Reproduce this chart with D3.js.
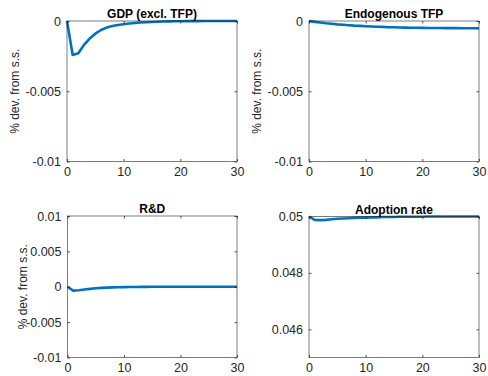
<!DOCTYPE html>
<html>
<head>
<meta charset="utf-8">
<script src="https://cdn.jsdelivr.net/npm/d3@7"></script>
<style>
  html, body { margin: 0; padding: 0; background: #fff; }
  svg { display: block; }
  text { font-family: "Liberation Sans", Arial, Helvetica, sans-serif; }
</style>
</head>
<body>
<svg id="chart" width="488" height="376"></svg>
<script>
// Impulse responses, periods 0..30
const periods = [0, 1, 2, 3, 4, 5, 6, 7, 8, 9, 10, 11, 12, 13, 14, 15, 16, 17, 18, 19, 20, 21, 22, 23, 24, 25, 26, 27, 28, 29, 30];

const gdpExclTfp = [0, -0.00242, -0.0023, -0.0017, -0.00125, -0.0009, -0.00064, -0.00047, -0.00036, -0.00029, -0.00023,
  -0.00018, -0.00014, -0.00011, -0.00009, -0.00007, -0.00005, -0.00004, -0.00003, -0.00002, -0.00002,
  -0.00001, -0.00001, -0.00001, 0, 0, 0, 0, 0, 0, 0];

const endogenousTfp = [0, -0.00006, -0.00011, -0.00016, -0.0002, -0.00024, -0.00027, -0.0003, -0.00033, -0.00035, -0.00037,
  -0.00039, -0.00041, -0.00042, -0.00044, -0.00045, -0.00046, -0.00047, -0.00048, -0.00048, -0.00049,
  -0.0005, -0.0005, -0.0005, -0.00051, -0.00051, -0.00051, -0.00052, -0.00052, -0.00052, -0.00052];

const rAndD = [0, -0.00055, -0.0005, -0.0004, -0.0003, -0.00022, -0.00016, -0.00012, -0.00009, -0.00007, -0.00005,
  -0.00004, -0.00003, -0.00002, -0.00002, -0.00001, -0.00001, -0.00001, 0, 0, 0,
  0, 0, 0, 0, 0, 0, 0, 0, 0, 0];

const adoptionRate = [0.05, 0.04988, 0.04987, 0.04988, 0.0499, 0.04992, 0.04993, 0.04994, 0.04995, 0.04996, 0.04996,
  0.04997, 0.04997, 0.04998, 0.04998, 0.04998, 0.04999, 0.04999, 0.04999, 0.04999, 0.04999,
  0.05, 0.05, 0.05, 0.05, 0.05, 0.05, 0.05, 0.05, 0.05, 0.05];

const titles = ["GDP (excl. TFP)", "Endogenous TFP", "R&D", "Adoption rate"];
const yLabels = ["% dev. from s.s.", "% dev. from s.s.", "% dev. from s.s.", ""];
const yDomains = [[-0.01, 0], [-0.01, 0], [-0.01, 0.01], [0.045, 0.05]];
const yTickValues = [
  [-0.01, -0.005, 0],
  [-0.01, -0.005, 0],
  [-0.01, -0.005, 0, 0.005, 0.01],
  [0.046, 0.048, 0.05]
];
const yTickLabels = [
  ["-0.01", "-0.005", "0"],
  ["-0.01", "-0.005", "0"],
  ["-0.01", "-0.005", "0", "0.005", "0.01"],
  ["0.046", "0.048", "0.05"]
];
const xDomain = [0, 30];
const xTickValues = [0, 10, 20, 30];
const seriesList = [gdpExclTfp, endogenousTfp, rAndD, adoptionRate];

// Panel rectangles: left, top, right, bottom
const panels = [
  { x0: 67, y0: 21, x1: 237, y1: 161.5 },
  { x0: 309, y0: 21, x1: 479, y1: 161.5 },
  { x0: 67.5, y0: 216, x1: 237, y1: 357.5 },
  { x0: 309, y0: 216.5, x1: 479, y1: 357.5 }
];
const yLabelX = [15, 257, 23, 0];

const svg = d3.select("#chart");
const axisColor = "#262626";
const lineColor = "#0072BD";
const tickLen = 2.5;

panels.forEach((p, i) => {
  const x = d3.scaleLinear().domain(xDomain).range([p.x0, p.x1]);
  const y = d3.scaleLinear().domain(yDomains[i]).range([p.y1, p.y0]);
  const g = svg.append("g");

  // curve
  const line = d3.line().x((d, k) => x(periods[k])).y(d => y(d));
  g.append("path")
    .datum(seriesList[i])
    .attr("fill", "none")
    .attr("stroke", lineColor)
    .attr("stroke-width", 2.6)
    .attr("stroke-linejoin", "round")
    .attr("d", line);

  // bottom / left axes with inward ticks
  const xAxis = d3.axisBottom(x).tickValues(xTickValues).tickSize(-tickLen).tickPadding(6).tickFormat(d3.format("d"));
  const gx = g.append("g").attr("transform", `translate(0,${p.y1})`).call(xAxis);
  const yAxis = d3.axisLeft(y).tickValues(yTickValues[i]).tickSize(-tickLen).tickPadding(6)
    .tickFormat((d, k) => yTickLabels[i][k]);
  const gy = g.append("g").attr("transform", `translate(${p.x0},0)`).call(yAxis);

  // top / right mirrored ticks
  const xTop = d3.axisTop(x).tickValues(xTickValues).tickSize(-tickLen).tickFormat("");
  const gxt = g.append("g").attr("transform", `translate(0,${p.y0})`).call(xTop);
  const yRight = d3.axisRight(y).tickValues(yTickValues[i]).tickSize(-tickLen).tickFormat("");
  const gyr = g.append("g").attr("transform", `translate(${p.x1},0)`).call(yRight);

  [gx, gy, gxt, gyr].forEach(a => {
    a.select(".domain").remove();
    a.selectAll(".tick line").attr("stroke", axisColor).attr("stroke-width", 0.8);
    a.selectAll(".tick text")
      .attr("fill", axisColor)
      .style("font-size", "12.5px")
      .style("font-family", "'Liberation Sans', Arial, sans-serif");
  });

  // axes box
  g.append("rect")
    .attr("x", p.x0).attr("y", p.y0)
    .attr("width", p.x1 - p.x0).attr("height", p.y1 - p.y0)
    .attr("fill", "none")
    .attr("stroke", axisColor)
    .attr("stroke-width", 0.6);

  // title
  g.append("text")
    .attr("x", (p.x0 + p.x1) / 2)
    .attr("y", p.y0 - 3)
    .attr("text-anchor", "middle")
    .attr("font-weight", "bold")
    .attr("font-size", "12px")
    .attr("fill", "#000")
    .text(titles[i]);

  // y label
  if (yLabels[i]) {
    g.append("text")
      .attr("transform", `translate(${yLabelX[i]},${(p.y0 + p.y1) / 2}) rotate(-90)`)
      .attr("text-anchor", "middle")
      .attr("dominant-baseline", "central")
      .attr("font-size", "12px")
      .attr("fill", axisColor)
      .text(yLabels[i]);
  }
});
</script>
</body>
</html>
